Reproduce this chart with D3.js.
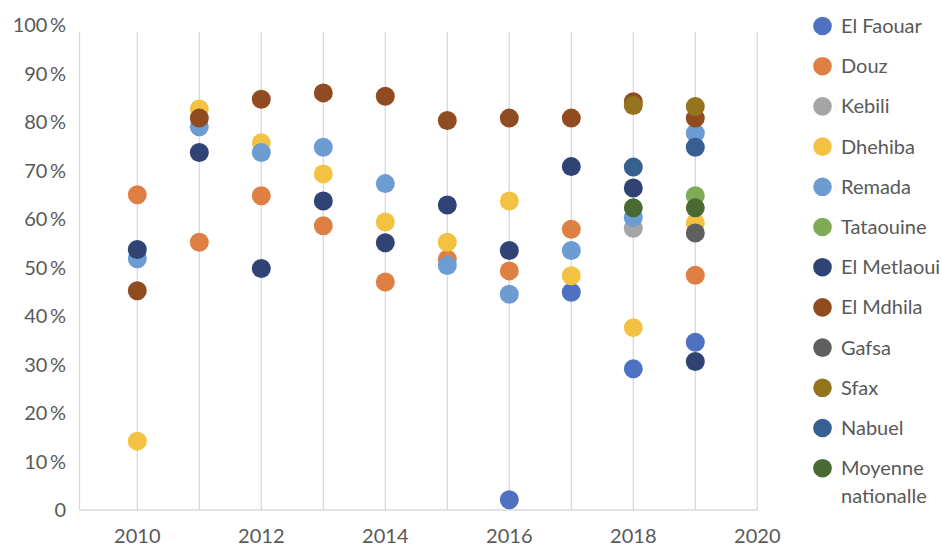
<!DOCTYPE html>
<html><head><meta charset="utf-8">
<script src="https://cdn.jsdelivr.net/npm/d3@7/dist/d3.min.js"></script>
<style>
html,body{margin:0;padding:0;background:#fff;}
svg text{font-family:Lato,"Open Sans",sans-serif;fill:#595959;}
</style></head>
<body><svg id="c" width="942" height="548"></svg>
<script>
const years = [2010,2011,2012,2013,2014,2015,2016,2017,2018,2019];
const seriesNames = ["El Faouar","Douz","Kebili","Dhehiba","Remada","Tataouine","El Metlaoui","El Mdhila","Gafsa","Sfax","Nabuel","Moyenne nationalle"];
const seriesColors = ["#4E71C1","#DE8043","#A5A5A5","#F4C242","#6C9CD2","#7EAB55","#2F4474","#904C20","#5F5F5F","#957420","#375F90","#4A6A33"];
const elFaouar   = [null,null,null,null,null,null,2.1,44.9,29.1,34.6];
const douz       = [65.0,55.2,64.8,58.6,47.0,51.7,49.3,57.9,null,48.4];
const kebili     = [null,null,null,null,null,null,null,null,58.1,null];
const dhehiba    = [14.2,82.7,75.7,69.3,59.4,55.2,63.7,48.3,37.6,59.2];
const remada     = [51.8,79.0,73.7,74.8,67.3,50.4,44.5,53.5,60.3,77.7];
const tataouine  = [null,null,null,null,null,null,null,null,null,64.8];
const elMetlaoui = [53.7,73.7,49.8,63.7,55.1,62.9,53.5,70.8,66.4,30.6];
const elMdhila   = [45.2,80.8,84.7,86.0,85.3,80.3,80.8,80.8,84.2,80.8];
const gafsa      = [null,null,null,null,null,null,null,null,null,57.1];
const sfax       = [null,null,null,null,null,null,null,null,83.4,83.2];
const nabuel     = [null,null,null,null,null,null,null,null,70.7,74.8];
const moyenne    = [null,null,null,null,null,null,null,null,62.3,62.3];
const seriesValues = [elFaouar,douz,kebili,dhehiba,remada,tataouine,elMetlaoui,elMdhila,gafsa,sfax,nabuel,moyenne];
const xTicks = [2010,2012,2014,2016,2018,2020];
const xGrid = [2010,2011,2012,2013,2014,2015,2016,2017,2018,2019,2020];
const yTicks = [0,10,20,30,40,50,60,70,80,90,100];

const svg = d3.select("#c");
const left = 79.5, bottom = 510, plotTop = 32;
const x = d3.scaleLinear().domain([2010,2020]).range([137.3,757.3]);
const y = d3.scaleLinear().domain([0,100]).range([510,25]);

// vertical gridlines
svg.append("g").selectAll("line").data(xGrid).join("line")
  .attr("x1",d=>x(d)).attr("x2",d=>x(d)).attr("y1",plotTop).attr("y2",bottom)
  .attr("stroke","#D9D9D9").attr("stroke-width",1.3);
// left axis line
svg.append("line").attr("x1",left).attr("x2",left).attr("y1",plotTop).attr("y2",bottom)
  .attr("stroke","#D9D9D9").attr("stroke-width",1.3);
// bottom axis line
svg.append("line").attr("x1",left).attr("x2",x(2020)).attr("y1",bottom).attr("y2",bottom)
  .attr("stroke","#D9D9D9").attr("stroke-width",1.3);

// y labels
svg.append("g").selectAll("text").data(yTicks).join("text")
  .attr("x",66).attr("y",d=>y(d)).attr("dy","0.35em").attr("text-anchor","end")
  .attr("font-size",20)
  .text(d=>d===0?"0":d+"\u2009%");
// x labels
svg.append("g").selectAll("text").data(xTicks).join("text")
  .attr("x",d=>x(d)).attr("y",536).attr("dy","0.35em").attr("text-anchor","middle")
  .attr("font-size",20).text(d=>d);

// points
seriesNames.forEach((name,i)=>{
  const pts = years.map((yr,j)=>({yr,v:seriesValues[i][j]})).filter(p=>p.v!==null);
  svg.append("g").selectAll("circle").data(pts).join("circle")
    .attr("cx",p=>x(p.yr)).attr("cy",p=>y(p.v)).attr("r",9.5)
    .attr("fill",seriesColors[i]);
});

// legend
const lg = svg.append("g");
seriesNames.forEach((name,i)=>{
  const cy = 26 + i*40.2;
  lg.append("circle").attr("cx",822.5).attr("cy",cy).attr("r",9.3).attr("fill",seriesColors[i]);
  const t = lg.append("text").attr("x",841).attr("y",cy).attr("dy","0.35em").attr("font-size",20);
  if(name==="Moyenne nationalle"){
    t.append("tspan").attr("x",841).text("Moyenne");
    t.append("tspan").attr("x",841).attr("dy",27.3).text("nationalle");
  } else t.text(name);
});
</script></body></html>
